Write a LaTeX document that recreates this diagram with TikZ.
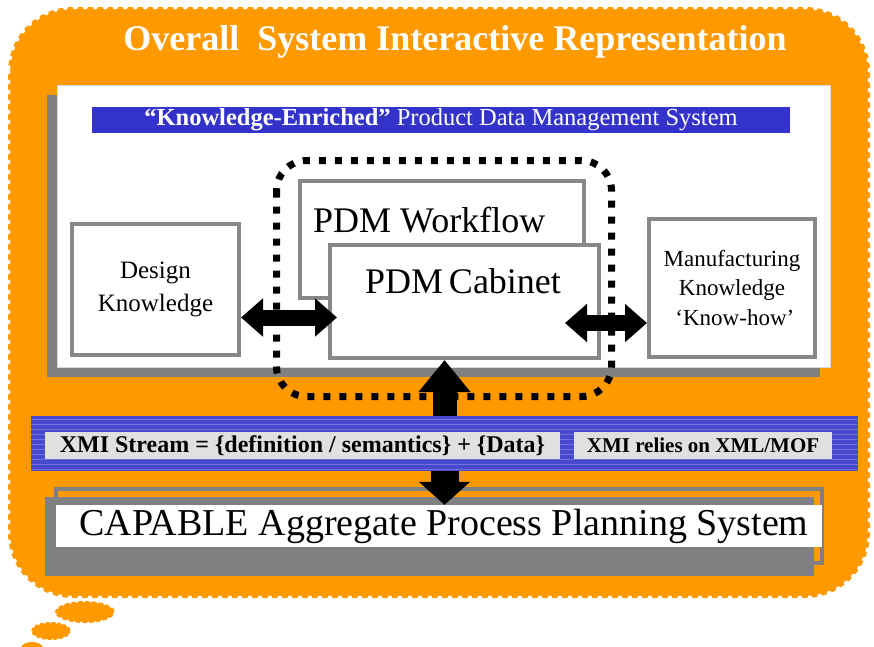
\documentclass[tikz,border=0pt]{standalone}
\usepackage{fontspec}
\setmainfont{Liberation Serif}
\usetikzlibrary{arrows.meta}
\definecolor{cloudorange}{HTML}{FF9900}
\definecolor{barblue}{HTML}{3333CC}
\definecolor{xmiblue}{HTML}{4848CC}
\definecolor{stripeblue}{HTML}{9A9AEE}
\definecolor{framegray}{HTML}{888888}
\definecolor{labelgray}{HTML}{E0E0E0}
\newcommand{\fsz}[2]{\fontsize{#1}{#2}\selectfont}
\begin{document}
\begin{tikzpicture}[x=1pt,y=-1pt,
  scallop/.style={white,line width=5pt,dash pattern=on 0pt off 10pt,line cap=round},
  kbox/.style={draw=framegray,line width=4pt,fill=white,align=center,inner sep=0pt},
  xmilabel/.style={fill=labelgray,inner sep=0pt,minimum height=27pt,font=\bfseries\fsz{24}{26}},
  dblarrow/.style={line width=16pt,{Triangle[width=37pt,length=22pt]}-{Triangle[width=37pt,length=22pt]}},
  uparrow/.style={line width=24pt,-{Triangle[width=50pt,length=32pt]}},
  downarrow/.style={line width=28pt,-{Triangle[width=50pt,length=23pt]}}]
\useasboundingbox (0,0) rectangle (874,646);
% thought cloud
\fill[cloudorange,rounded corners=65pt] (8,7) rectangle (870,598);
\draw[scallop,rounded corners=65pt] (8,7) rectangle (870,598);
\fill[cloudorange] (85,612) ellipse [x radius=30pt,y radius=11pt];
\draw[scallop,line width=3pt,dash pattern=on 0pt off 7pt] (85,612) ellipse [x radius=30pt,y radius=11pt];
\fill[cloudorange] (51,631) ellipse [x radius=20pt,y radius=9pt];
\draw[scallop,line width=2.5pt,dash pattern=on 0pt off 6pt] (51,631) ellipse [x radius=20pt,y radius=9pt];
\fill[cloudorange] (32,648) ellipse [x radius=11pt,y radius=6pt];
\node[text=white,font=\bfseries\fsz{36}{40}] (title) at (455,42) {Overall~ System Interactive Representation};
% PDM panel
\fill[gray] (47,95) rectangle (820,377);                 % shadow
\draw[gray!30,fill=white] (57,85) rectangle (830,367);
\node[fill=barblue,text=white,minimum width=698pt,minimum height=26pt,inner sep=0pt,font=\fsz{24.5}{26}]
  (hdr) at (441,120) {\textbf{“Knowledge-Enriched”} Product Data Management System};
\node[kbox,minimum width=167pt,minimum height=131pt,font=\fsz{25}{33}] (design) at (155.5,289.5) {Design\\Knowledge};
\node[kbox,minimum width=166pt,minimum height=138pt,font=\fsz{23}{29.5}] (mfg) at (732,288) {Manufacturing\\Knowledge\\\ ‘Know-how’};
\node[kbox,minimum width=284pt,minimum height=117pt] (wf) at (442,239.5) {};
\node[anchor=west,inner sep=0pt,font=\fsz{36}{40}] (wftext) at (313,220) {PDM Workflow};
\node[kbox,minimum width=269pt,minimum height=113pt] (cab) at (464.5,301.5) {};
\node[inner sep=0pt,font=\fsz{36}{40}] (cabtext) at (463,281) {PDM\,Cabinet};
\draw[line width=7pt,dash pattern=on 7pt off 9pt,rounded corners=30pt] (276.5,160.5) rectangle (611.5,396.5);
\coordinate (dl) at ([yshift=-28pt]design.east);
\coordinate (ml) at ([yshift=-35pt]mfg.west);
\draw[dblarrow,shorten >=-9pt] (dl) -- (dl -| cab.west);
\draw[dblarrow,shorten >=-36pt] (ml) -- (ml -| cab.east);
% XMI stream bar
\node[fill=xmiblue,minimum width=827pt,minimum height=55pt,inner sep=0pt] (xmibar) at (444.5,443.5) {};
\foreach \yy in {419,424,...,469}
  \draw[stripeblue,line width=1pt,opacity=0.5] (31,\yy) -- (858,\yy);
\node[xmilabel,minimum width=515pt] (xmistream) at (302.5,445.5) {XMI Stream = \{definition / semantics\} + \{Data\}};
\node[xmilabel,minimum width=258pt,font=\bfseries\fsz{21}{26}] (xmimof) at (703,445.5) {XMI relies on XML/MOF};
\draw[uparrow] (xmibar.north) -- (xmibar.north |- cab.south);
% CAPABLE system
\fill[gray] (45,497) rectangle (814,576);                 % shadow
\draw[gray,line width=4pt] (56,489) rectangle (822,563);
\node[fill=white,minimum width=766pt,minimum height=42pt,inner sep=0pt,font=\fsz{38}{40}] (capable) at (439,526) {\hspace{10pt}CAPABLE Aggregate Process Planning System};
\draw[downarrow] (xmibar.south) -- (xmibar.south |- capable.north);
\end{tikzpicture}
\end{document}
